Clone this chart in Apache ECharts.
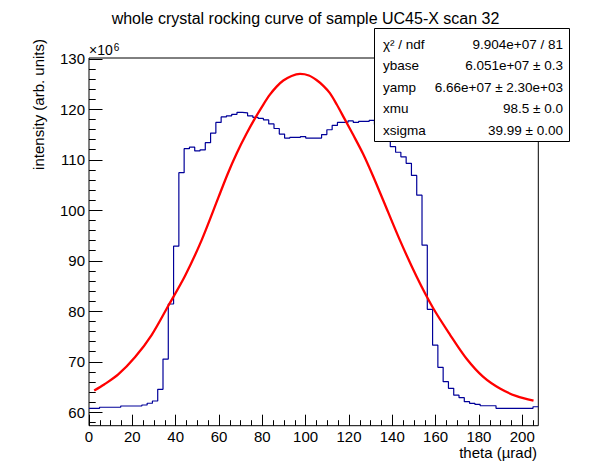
<!DOCTYPE html>
<html><head><meta charset="utf-8">
<script src="https://cdn.jsdelivr.net/npm/echarts@6/dist/echarts.min.js"></script>
<style>html,body{margin:0;padding:0;background:#fff}#c{width:598px;height:474px}</style>
</head><body><div id="c"></div>
<script>
// ---- data (intensity in units of 10^6) ----
const thetaMin = 0;
const thetaMax = 207.4;           // 85 bins
const intensityBins = [
  60.8, 60.8, 61.0, 61.0, 61.0, 61.0, 61.25, 61.25, 61.25, 61.25,
  61.45, 61.8, 62.24, 64.55, 70.55, 81.45, 92.9, 107.45, 112.2, 112.5,
  111.75, 111.95, 113.4, 115.3, 117.4, 118.5, 118.7, 119.0, 119.4, 119.3,
  118.7, 118.4, 118.2, 117.9, 117.1, 116.2, 115.1, 114.3, 114.45, 114.45,
  114.6, 114.3, 114.3, 114.3, 115.0, 115.95, 116.8, 117.4, 117.4, 117.7,
  117.4, 117.6, 117.6, 117.8, 117.0, 115.8, 113.65, 112.6, 111.5, 110.6,
  109.3, 106.9, 103.0, 93.1, 80.4, 73.3, 68.9, 66.06, 64.75, 63.4,
  62.9, 62.1, 61.78, 61.58, 61.3, 61.3, 61.3, 60.8, 60.8, 60.8,
  60.8, 60.8, 60.8, 60.8, 61.1
];
const fitTheta = [2.4, 7, 13.5, 21.2, 28.9, 36.6, 44.3, 52, 59.7, 64, 68.2, 72.5, 76.6, 80.4, 83.5,
  86.6, 89.7, 93.5, 97.4, 101.5, 105, 108.3, 111.2, 114.3, 118.1, 122, 126.6, 131, 135.8, 143.5,
  151.2, 158.9, 166.6, 174.3, 182, 189.7, 197.4, 205.2];
const fitIntensity = [64.3, 65.5, 67.5, 70.9, 75.3, 81.1, 87.0, 94.1, 102.5, 107.2, 111.3, 115.0, 118.2, 120.9, 122.9,
  124.5, 125.7, 126.6, 127.0, 126.7, 125.8, 124.6, 123.2, 121.0, 118.0, 114.9, 111.1, 106.9, 102.0, 94.1,
  86.9, 80.6, 75.4, 70.6, 67.0, 64.7, 63.2, 62.3];
const xMajorStep = 20, xMinorStep = 5;
const yMajorStep = 10, yMinorStep = 2;
const statLabels = ['χ² / ndf', 'ybase', 'yamp', 'xmu', 'xsigma'];
const statValues = ['9.904e+07 / 81', '6.051e+07 ± 0.3', '6.66e+07 ± 2.30e+03', '98.5 ± 0.0', '39.99 ± 0.00'];
const titleText = 'whole crystal rocking curve of sample UC45-X scan 32';
const xTitle = 'theta (µrad)';
const yTitle = 'intensity (arb. units)';

// ---- layout ----
const FONT = "'Liberation Sans', Arial, Helvetica, sans-serif";
const frame = {left: 89, top: 58, width: 449.3, height: 367.7};
const yRange = [57.35, 130.16];
const pxPerX = frame.width / (thetaMax - thetaMin);
const pxPerY = frame.height / (yRange[1] - yRange[0]);
const yPix = v => frame.top + (yRange[1] - v) * pxPerY;

const nBins = intensityBins.length;
const binW = (thetaMax - thetaMin) / nBins;
const histData = intensityBins.map((v, i) => [thetaMin + i * binW, v]);
histData.push([thetaMax, intensityBins[nBins - 1]]);
const fitData = fitTheta.map((t, i) => [t, fitIntensity[i]]);

const xMajMax = Math.floor(thetaMax / xMajorStep) * xMajorStep;
const xMinMax = Math.floor(thetaMax / xMinorStep) * xMinorStep;
const yMajMin = Math.ceil(yRange[0] / yMajorStep) * yMajorStep;
const yMajMax = Math.floor(yRange[1] / yMajorStep) * yMajorStep;
const yMinMin = Math.ceil(yRange[0] / yMinorStep) * yMinorStep;

const hidden = {show: false};
const lbl = {color: '#000', fontFamily: FONT, fontSize: 15, lineHeight: 14};

const chart = echarts.init(document.getElementById('c'), null, {renderer: 'svg'});
chart.setOption({
  animation: false,
  backgroundColor: '#fff',
  grid: [
    {left: frame.left, top: frame.top, width: frame.width, height: frame.height,
     show: true, borderColor: '#000', borderWidth: 1, backgroundColor: 'transparent'},
    {left: frame.left, top: frame.top, width: (xMajMax - thetaMin) * pxPerX, height: frame.height},
    {left: frame.left, top: frame.top, width: (xMinMax - thetaMin) * pxPerX, height: frame.height},
    {left: frame.left, top: yPix(yMajMax), width: frame.width, height: (yMajMax - yMajMin) * pxPerY},
    {left: frame.left, top: yPix(yMajMax), width: frame.width, height: (yMajMax - yMinMin) * pxPerY}
  ],
  xAxis: [
    {gridIndex: 0, type: 'value', min: thetaMin, max: thetaMax, axisLine: hidden, axisTick: hidden,
     axisLabel: hidden, splitLine: hidden},
    {gridIndex: 1, type: 'value', min: thetaMin, max: xMajMax, interval: xMajorStep,
     axisLine: hidden, splitLine: hidden,
     axisTick: {show: true, inside: true, length: 11, lineStyle: {color: '#000', width: 1}},
     axisLabel: Object.assign({margin: 4}, lbl)},
    {gridIndex: 2, type: 'value', min: thetaMin, max: xMinMax, interval: xMinorStep,
     axisLine: hidden, splitLine: hidden, axisLabel: hidden,
     axisTick: {show: true, inside: true, length: 5.5, lineStyle: {color: '#000', width: 1}}},
    {gridIndex: 3, type: 'value', show: false, min: thetaMin, max: thetaMax},
    {gridIndex: 4, type: 'value', show: false, min: thetaMin, max: thetaMax}
  ],
  yAxis: [
    {gridIndex: 0, type: 'value', min: yRange[0], max: yRange[1], axisLine: hidden, axisTick: hidden,
     axisLabel: hidden, splitLine: hidden},
    {gridIndex: 1, type: 'value', show: false, min: yRange[0], max: yRange[1]},
    {gridIndex: 2, type: 'value', show: false, min: yRange[0], max: yRange[1]},
    {gridIndex: 3, type: 'value', min: yMajMin, max: yMajMax, interval: yMajorStep,
     axisLine: hidden, splitLine: hidden,
     axisTick: {show: true, inside: true, length: 13.5, lineStyle: {color: '#000', width: 1}},
     axisLabel: Object.assign({margin: 4}, lbl)},
    {gridIndex: 4, type: 'value', min: yMinMin, max: yMajMax, interval: yMinorStep,
     axisLine: hidden, splitLine: hidden, axisLabel: hidden,
     axisTick: {show: true, inside: true, length: 6.7, lineStyle: {color: '#000', width: 1}}}
  ],
  series: [
    {type: 'line', xAxisIndex: 0, yAxisIndex: 0, data: histData, step: 'end', showSymbol: false,
     symbol: 'none', lineStyle: {color: '#000099', width: 1.2}, z: 3},
    {type: 'line', xAxisIndex: 0, yAxisIndex: 0, data: fitData, smooth: 0.3,
     showSymbol: false, symbol: 'none', lineStyle: {color: '#ff0000', width: 2.3}, z: 4}
  ],
  graphic: [
    {type: 'text', x: 305.5, y: 18, z: 10,
     style: {text: titleText, fill: '#000', font: '16px ' + FONT, align: 'center', verticalAlign: 'middle'}},
    {type: 'text', x: 38, y: 39, rotation: Math.PI / 2, z: 10,
     style: {text: yTitle, fill: '#000', font: '15px ' + FONT, align: 'right', verticalAlign: 'middle', lineHeight: 14}},
    {type: 'text', x: 537, y: 452.5, z: 10,
     style: {text: xTitle, fill: '#000', font: '15px ' + FONT, align: 'right', verticalAlign: 'middle', lineHeight: 12}},
    {type: 'text', x: 89, y: 57, z: 10,
     style: {text: '{a|×10}{b|6}', align: 'left', verticalAlign: 'bottom', fill: '#000',
       rich: {a: {fontSize: 14, fontFamily: FONT, lineHeight: 15},
              b: {fontSize: 10, fontFamily: FONT, verticalAlign: 'top', lineHeight: 15, padding: [0, 0, 6, 1]}}}},
    {type: 'rect', z: 20, shape: {x: 374.5, y: 28.5, width: 195, height: 113},
     style: {fill: '#fff', stroke: '#000', lineWidth: 1}},
    ...statLabels.map((t, i) => ({type: 'text', z: 21, x: 383, y: 44 + i * 21.6,
      style: {text: t, fill: '#000', font: '13.5px ' + FONT, align: 'left', verticalAlign: 'middle'}})),
    ...statValues.map((t, i) => ({type: 'text', z: 21, x: 563, y: 44 + i * 21.6,
      style: {text: t, fill: '#000', font: '13.5px ' + FONT, align: 'right', verticalAlign: 'middle'}}))
  ]
});
</script></body></html>
